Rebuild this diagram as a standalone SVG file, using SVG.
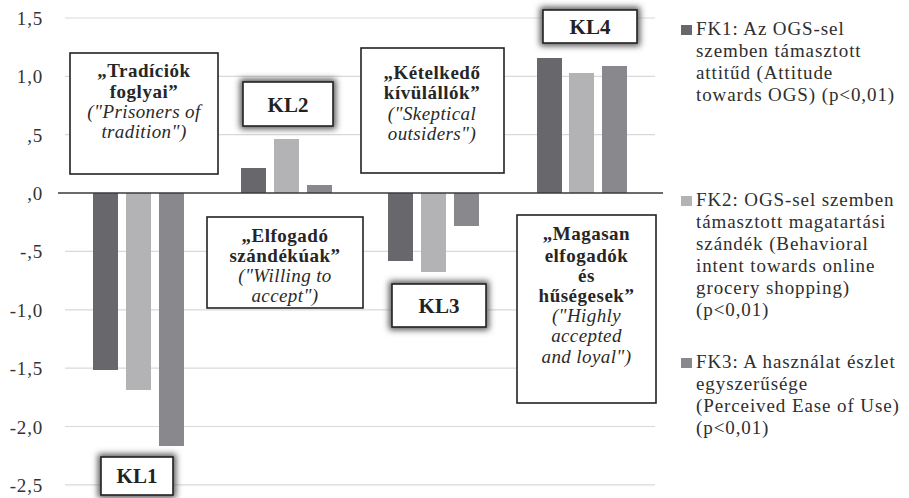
<svg xmlns="http://www.w3.org/2000/svg" width="909" height="498" viewBox="0 0 909 498">
<defs>
<style>
.grid{stroke:#d9d9d9;stroke-width:1.2}
.axis{stroke:#3a3a3a;stroke-width:1.6}
.ytick{font-family:"Liberation Serif","Times New Roman",serif;font-size:19px;letter-spacing:0.8px;fill:#333;text-anchor:end}
.f1{fill:#67676c}.f2{fill:#b3b3b6}.f3{fill:#89898d}
.box{fill:#fff;stroke:#222;stroke-width:1.6}
.glow{fill:#555;filter:url(#blur)}
.tb{font-family:"Liberation Serif","Times New Roman",serif;font-size:19px;letter-spacing:0.5px;font-weight:bold;fill:#262626;text-anchor:middle}
.ti{font-family:"Liberation Serif","Times New Roman",serif;font-size:19px;letter-spacing:0.4px;font-style:italic;fill:#2a2a2a;text-anchor:middle}
.kl{font-family:"Liberation Serif","Times New Roman",serif;font-size:21px;font-weight:bold;fill:#222;text-anchor:middle}
.lg{font-family:"Liberation Serif","Times New Roman",serif;font-size:19px;letter-spacing:0.9px;fill:#2e2e2e}
</style>
<filter id="blur" x="-30%" y="-30%" width="160%" height="160%"><feGaussianBlur stdDeviation="3"/></filter>
</defs>
<rect width="909" height="498" fill="#fff"/>
<g id="gridlines">
<line class="grid" x1="65" y1="18" x2="655" y2="18"/>
<line class="grid" x1="65" y1="76.3" x2="655" y2="76.3"/>
<line class="grid" x1="65" y1="134.6" x2="655" y2="134.6"/>
<line class="grid" x1="65" y1="251.4" x2="655" y2="251.4"/>
<line class="grid" x1="65" y1="309.8" x2="655" y2="309.8"/>
<line class="grid" x1="65" y1="368.1" x2="655" y2="368.1"/>
<line class="grid" x1="65" y1="426.5" x2="655" y2="426.5"/>
<line class="grid" x1="65" y1="484.9" x2="655" y2="484.9"/>
</g>
<g id="yaxis-labels">
<text class="ytick" x="43" y="25">1,5</text>
<text class="ytick" x="43" y="83">1,0</text>
<text class="ytick" x="43" y="142">,5</text>
<text class="ytick" x="43" y="200">,0</text>
<text class="ytick" x="43" y="258">-,5</text>
<text class="ytick" x="43" y="317">-1,0</text>
<text class="ytick" x="43" y="375">-1,5</text>
<text class="ytick" x="43" y="434">-2,0</text>
<text class="ytick" x="43" y="492">-2,5</text>
</g>
<g id="bars">
<rect class="f1" x="93" y="193" width="25" height="177"/>
<rect class="f2" x="126" y="193" width="25" height="197"/>
<rect class="f3" x="159" y="193" width="25" height="253"/>
<rect class="f1" x="241" y="168" width="25" height="25"/>
<rect class="f2" x="274" y="139" width="25" height="54"/>
<rect class="f3" x="307" y="185" width="25" height="8"/>
<rect class="f1" x="388" y="193" width="25" height="68"/>
<rect class="f2" x="421" y="193" width="25" height="79"/>
<rect class="f3" x="454" y="193" width="25" height="33"/>
<rect class="f1" x="537" y="58" width="25" height="135"/>
<rect class="f2" x="569" y="73" width="25" height="120"/>
<rect class="f3" x="602" y="66" width="25" height="127"/>
</g>
<g id="connectors">
<line class="axis" x1="58" y1="193" x2="663" y2="193"/>
</g>
<g id="box-tradiciok">
<rect class="box" x="70" y="53" width="148" height="121"/>
<text class="tb" x="144" y="77">„Tradíciók</text>
<text class="tb" x="144" y="98">foglyai”</text>
<text class="ti" x="144" y="118">("Prisoners of</text>
<text class="ti" x="144" y="138">tradition")</text>
</g>
<g id="box-kl1">
<rect class="glow" x="98" y="454" width="78" height="44"/>
<rect class="box" x="101" y="457" width="72" height="38"/>
<text class="kl" x="137" y="483">KL1</text>
</g>
<g id="box-kl2">
<rect class="glow" x="240" y="79" width="96" height="50"/>
<rect class="box" x="243" y="82" width="90" height="44"/>
<text class="kl" x="288" y="112">KL2</text>
</g>
<g id="box-ketelkedo">
<rect class="box" x="361" y="48" width="143" height="125"/>
<text class="tb" x="432" y="79">„Kételkedő</text>
<text class="tb" x="432" y="99">kívülállók”</text>
<text class="ti" x="432" y="120">("Skeptical</text>
<text class="ti" x="432" y="140">outsiders")</text>
</g>
<g id="box-elfogado">
<rect class="box" x="207" y="217" width="156" height="91"/>
<text class="tb" x="285" y="242">„Elfogadó</text>
<text class="tb" x="285" y="262">szándékúak”</text>
<text class="ti" x="285" y="282">("Willing to</text>
<text class="ti" x="285" y="302">accept")</text>
</g>
<g id="box-kl3">
<rect class="glow" x="389" y="281" width="100" height="49"/>
<rect class="box" x="392" y="284" width="94" height="43"/>
<text class="kl" x="439" y="313">KL3</text>
</g>
<g id="box-kl4">
<rect class="glow" x="540" y="7" width="100" height="39"/>
<rect class="box" x="543" y="10" width="94" height="33"/>
<text class="kl" x="590" y="34">KL4</text>
</g>
<g id="box-magasan">
<rect class="box" x="517" y="215" width="139" height="188"/>
<text class="tb" x="586.5" y="240">„Magasan</text>
<text class="tb" x="586.5" y="262">elfogadók</text>
<text class="tb" x="586.5" y="282">és</text>
<text class="tb" x="586.5" y="302">hűségesek”</text>
<text class="ti" x="586.5" y="322">("Highly</text>
<text class="ti" x="586.5" y="342">accepted</text>
<text class="ti" x="586.5" y="363">and loyal")</text>
</g>
<g id="legend">
<rect class="f1" x="681" y="25" width="11" height="10"/>
<text class="lg" x="696" y="35">FK1: Az OGS-sel</text>
<text class="lg" x="696" y="57">szemben támasztott</text>
<text class="lg" x="696" y="79">attitűd  (Attitude</text>
<text class="lg" x="696" y="101">towards OGS) (p&lt;0,01)</text>
<rect class="f2" x="681" y="196" width="11" height="10"/>
<text class="lg" x="696" y="206">FK2: OGS-sel szemben</text>
<text class="lg" x="696" y="228">támasztott magatartási</text>
<text class="lg" x="696" y="250">szándék (Behavioral</text>
<text class="lg" x="696" y="272">intent towards online</text>
<text class="lg" x="696" y="294">grocery shopping)</text>
<text class="lg" x="696" y="316">(p&lt;0,01)</text>
<rect class="f3" x="681" y="358" width="11" height="10"/>
<text class="lg" x="696" y="368">FK3: A használat észlet</text>
<text class="lg" x="696" y="390">egyszerűsége</text>
<text class="lg" x="696" y="412">(Perceived Ease of Use)</text>
<text class="lg" x="696" y="434">(p&lt;0,01)</text>
</g>
</svg>
